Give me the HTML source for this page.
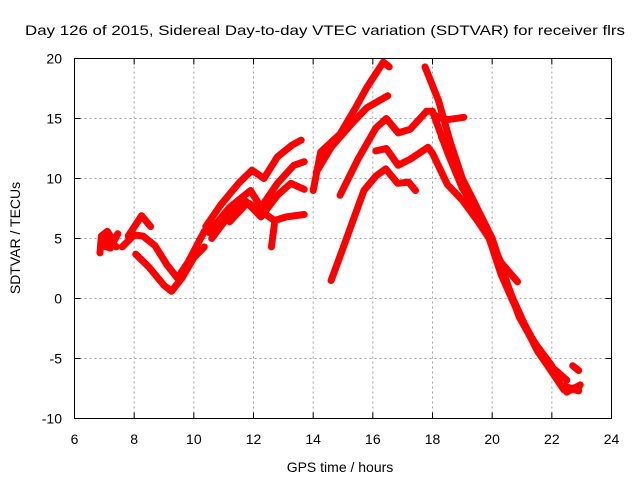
<!DOCTYPE html>
<html><head><meta charset="utf-8"><style>
html,body{margin:0;padding:0;background:#fff;}
svg{display:block;font-family:"Liberation Sans",sans-serif;}
</style></head><body>
<svg id="chart" width="640" height="480" viewBox="0 0 640 480">
<rect x="0" y="0" width="640" height="480" fill="#fff"/>
<text x="325" y="35" text-anchor="middle" font-size="14" textLength="600" lengthAdjust="spacingAndGlyphs">Day 126 of 2015, Sidereal Day-to-day VTEC variation (SDTVAR) for receiver flrs</text>
<g id="grid"></g>
<g id="ticks"></g>
<g id="series"></g>
<rect x="74.5" y="58.5" width="537" height="360" fill="none" stroke="#000" stroke-width="1"/>
<text x="340" y="472" text-anchor="middle" font-size="14">GPS time / hours</text>
<text x="0" y="0" transform="translate(20,238) rotate(-90)" text-anchor="middle" font-size="14">SDTVAR / TECUs</text>
</svg>
<script>
const xTicks = [6, 8, 10, 12, 14, 16, 18, 20, 22, 24];
const yTicks = [-10, -5, 0, 5, 10, 15, 20];
const seriesNames = ['blob-early','trace-a','trace-b','trace-c','trace-d','trace-e','trace-f','trace-g','trace-h','trace-i','trace-j','trace-k','trace-l','trace-m','trace-n','trace-o','trace-p','trace-q','trace-r','blob-early-2'];
const s0 = [[6.85,3.8],[6.9,5.2],[7.1,5.6],[7.3,4.8],[7.45,5.4],[7.2,4.2],[6.95,4.4],[7.1,5.0],[7.4,4.3]];
const s1 = [[7.6,4.3],[8.0,5.3],[8.3,5.2],[8.7,4.4],[9.1,2.8],[9.45,1.7],[9.8,3.0],[10.35,5.6]];
const s2 = [[7.8,5.2],[8.25,6.9],[8.55,6.0]];
const s3 = [[8.05,3.7],[8.5,2.6],[9.0,1.1],[9.25,0.6],[9.6,1.7],[10.0,3.4],[10.35,4.3]];
const s4 = [[10.4,6.0],[10.9,7.8],[11.5,9.6],[11.95,10.7],[12.35,10.0],[12.8,11.8],[13.3,12.8],[13.6,13.2]];
const s5 = [[10.5,5.5],[11.2,7.6],[11.9,9.0],[12.25,7.6],[12.8,9.6],[13.35,11.1],[13.7,11.4]];
const s6 = [[10.6,5.0],[11.2,7.0],[11.7,8.2],[12.25,6.8],[12.8,8.6],[13.25,9.6],[13.7,9.1]];
const s7 = [[11.2,6.4],[11.8,8.0],[12.3,7.2],[12.7,6.5],[13.1,6.8],[13.7,7.0]];
const s8 = [[12.6,4.3],[12.7,6.2]];
const s9 = [[14.0,9.0],[14.25,12.2],[14.9,13.7],[15.4,15.8],[15.8,17.6],[16.35,19.7],[16.55,19.3]];
const s10 = [[14.1,10.5],[14.6,12.6],[15.3,14.6],[15.8,15.9],[16.5,16.9]];
const s11 = [[14.9,8.6],[15.5,11.6],[16.1,14.2],[16.45,15.0],[16.85,13.8],[17.25,14.1],[17.8,15.6],[18.0,15.6],[18.5,12.2],[19.0,9.2],[19.6,7.0],[20.0,5.0],[20.4,2.0],[20.9,-1.5],[21.6,-4.6],[22.4,-7.6],[22.9,-7.4]];
const s12 = [[16.1,12.3],[16.45,12.5],[16.85,11.1],[17.25,11.6],[17.85,12.6],[18.0,12.1],[18.5,9.5],[19.0,8.2],[19.5,6.5],[19.9,5.0],[20.3,3.0],[20.85,1.4]];
const s13 = [[14.6,1.5],[15.0,4.2],[15.7,9.0],[16.1,10.2],[16.43,10.8],[16.83,9.6],[17.2,9.7],[17.43,9.0]];
const s14 = [[17.75,19.3],[18.2,16.5],[18.6,13.0],[19.0,10.0],[19.5,7.5],[19.9,5.0],[20.3,2.0],[20.8,-0.8],[21.5,-4.3],[22.3,-7.2],[22.9,-7.7]];
const s15 = [[18.1,15.2],[18.5,14.9],[19.05,15.1]];
const s16 = [[20.9,-1.3],[21.4,-3.6],[22.0,-5.6]];
const s17 = [[22.7,-5.6],[22.9,-6.0]];
const s18 = [[22.5,-7.8],[22.95,-7.2]];
const s19 = [[18.3,13.5],[18.8,10.5],[19.3,8.5],[19.8,6.0],[20.2,3.0],[20.6,0.5],[21.2,-2.8],[21.9,-5.5],[22.5,-6.8]];
const allSeries = [s0,s1,s2,s3,s4,s5,s6,s7,s8,s9,s10,s11,s12,s13,s14,s15,s16,s17,s18,s19];

const X0=74.5, X1=611.5, Y0=418.5, Y1=58.5;
const xMin=6, xMax=24, yMin=-10, yMax=20;
function xs(v){return X0+(v-xMin)/(xMax-xMin)*(X1-X0);}
function ys(v){return Y0-(v-yMin)/(yMax-yMin)*(Y0-Y1);}
const NS='http://www.w3.org/2000/svg';
const grid=document.getElementById('grid'), ticks=document.getElementById('ticks'), ser=document.getElementById('series');
function mk(tag,attrs,parent){const e=document.createElementNS(NS,tag);for(const k in attrs)e.setAttribute(k,attrs[k]);parent.appendChild(e);return e;}
xTicks.forEach(t=>{
  const x=xs(t);
  if(t>xMin&&t<xMax){
    const g=mk('line',{x1:x,y1:Y0,x2:x,y2:Y1,stroke:'#a0a0a0','stroke-width':1,'stroke-dasharray':'2,3'},grid);
    
    
  }
  const a=mk('line',{x1:x,y1:Y0,x2:x,y2:Y0-6,stroke:'#000'},ticks);
  
  
  const b=mk('line',{x1:x,y1:Y1,x2:x,y2:Y1+6,stroke:'#000'},ticks);
  
  
  const l=mk('text',{x:x,y:444,'text-anchor':'middle','font-size':14},ticks);
  l.textContent=String(t);
  
  
});
yTicks.forEach(t=>{
  const y=ys(t);
  if(t>yMin&&t<yMax){
    const g=mk('line',{x1:X0,y1:y,x2:X1,y2:y,stroke:'#a0a0a0','stroke-width':1,'stroke-dasharray':'2,3'},grid);
    
    
  }
  const a=mk('line',{x1:X0,y1:y,x2:X0+6,y2:y,stroke:'#000'},ticks);
  
  
  const b=mk('line',{x1:X1,y1:y,x2:X1-6,y2:y,stroke:'#000'},ticks);
  
  
  const l=mk('text',{x:62,y:y+5,'text-anchor':'end','font-size':14},ticks);
  l.textContent=String(t);
  
  
});
allSeries.forEach((s,i)=>{
  const p=mk('polyline',{points:s.map(d=>xs(d[0]).toFixed(1)+','+ys(d[1]).toFixed(1)).join(' '),fill:'none',stroke:'#ff0000','stroke-width':7,'stroke-linejoin':'round','stroke-linecap':'round'},ser);
  
  
});
</script>
</body></html>
